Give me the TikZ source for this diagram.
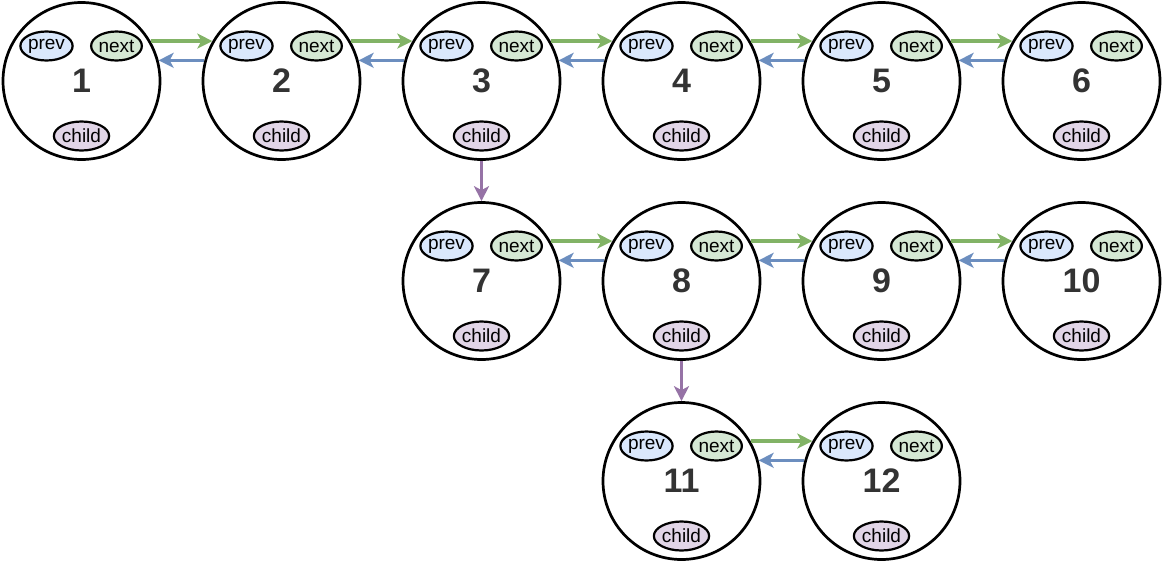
\documentclass[tikz,border=0pt]{standalone}
\usepackage{fontspec}
\setmainfont{Liberation Sans}
\usetikzlibrary{arrows.meta,calc,shapes.geometric}
\definecolor{pfill}{HTML}{DAE8FC}
\definecolor{nfill}{HTML}{D5E8D4}
\definecolor{cfill}{HTML}{E1D5E7}
\definecolor{linkgreen}{HTML}{82B366}
\definecolor{linkblue}{HTML}{6C8EBF}
\definecolor{linkpurple}{HTML}{9673A6}
\definecolor{numgray}{HTML}{333333}
\tikzset{
  listc/.style={circle, draw=black, line width=2.7pt, minimum size=157pt, inner sep=0pt,
    text=numgray, font=\fontsize{34}{34}\selectfont\bfseries},
  field/.style={ellipse, draw=black, line width=2.2pt, minimum width=50pt, minimum height=29pt,
    inner sep=0pt, font=\fontsize{19}{19}\selectfont},
  pfield/.style={field, fill=pfill},
  nfield/.style={field, fill=nfill},
  cfield/.style={field, fill=cfill},
  linkarrow/.style={color=#1, line width=3.2pt, -{Stealth[length=15pt,width=15pt,inset=4pt]}},
}
\begin{document}
\begin{tikzpicture}[x=1pt,y=-1pt]
\useasboundingbox (0,0) rectangle (1163,563);
\foreach \n/\x/\y in {1/81.5/81,2/281.5/81,3/481.5/81,4/681.5/81,5/881.5/81,6/1081.5/81,
  7/481.5/281,8/681.5/281,9/881.5/281,10/1081.5/281,11/681.5/481,12/881.5/481}{
  \node[listc] (c\n) at (\x,\y) {\n};
  \node[pfield] (p\n) at ($(c\n.center)+(-35,-35)$) {prev};
  \node[nfield] (x\n) at ($(c\n.center)+(35,-35)$) {next};
  \node[cfield] (ch\n) at ($(c\n.center)+(0,55)$) {child};
}
\foreach \a/\b in {1/2,2/3,3/4,4/5,5/6,7/8,8/9,9/10,11/12}{
  \begin{scope}
  \draw[linkarrow=linkblue, line width=3.2pt] (c\b.165) -- (c\a.15);
  \end{scope}
}
\foreach \a/\b in {1/2,2/3,3/4,4/5,5/6,7/8,8/9,9/10,11/12}{
  \begin{scope}
  \draw[linkarrow=linkgreen, line width=3.2pt] (c\a.30) -- (c\b.150);
  \end{scope}
}
\begin{scope}
\draw[linkarrow=linkpurple, line width=3.2pt] (c3.south) -- (c7.north);
\end{scope}
\begin{scope}
\draw[linkarrow=linkpurple, line width=3.2pt] (c8.south) -- (c11.north);
\end{scope}
\end{tikzpicture}
\end{document}
